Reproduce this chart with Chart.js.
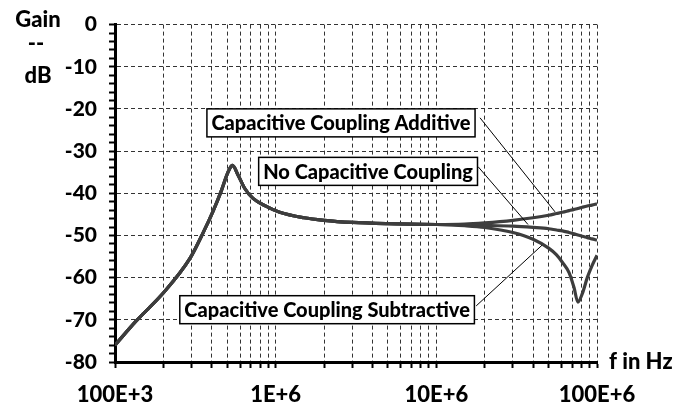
<!DOCTYPE html>
<html>
<head>
<meta charset="utf-8">
<script src="https://cdn.jsdelivr.net/npm/chart.js@4/dist/chart.umd.min.js"></script>
<style>
  html, body { margin: 0; padding: 0; background: #fff; }
  #wrap { width: 698px; height: 409px; }
</style>
</head>
<body>
<div id="wrap"><canvas id="c" width="698" height="409"></canvas></div>
<script>
// Frequency response: gain in dB versus frequency in Hz
const freqHz = [
  1e5, 1.36e5, 1.99e5, 2.92e5, 3.55e5, 4.08e5, 4.6e5, 4.94e5, 5.15e5, 5.38e5,
  5.84e5, 6.41e5, 7.23e5, 8.75e5, 1.06e6, 1.5e6, 2e6, 3e6,
  5e6, 1e7, 1.5e7, 2e7, 3e7, 4e7, 5e7, 5.6e7, 6.1e7, 6.7e7,
  7.2e7, 7.6e7, 8.1e7, 8.7e7, 9.3e7, 1e8
];
const gainNoCoupling = [
  -76, -70.2, -63.7, -55.5, -49.2, -44.2, -39.3, -35.9, -34.3, -33.4,
  -35.7, -38.8, -41.2, -43.1, -44.5, -45.8, -46.4, -46.9,
  -47.2, -47.4, -47.5, -47.6, -47.8, -48.1, -48.4, -48.7, -48.9, -49.3,
  -49.6, -49.9, -50.2, -50.5, -50.8, -51.1
];
const gainAdditive = [
  -76, -70.2, -63.7, -55.5, -49.2, -44.2, -39.3, -35.9, -34.3, -33.4,
  -35.7, -38.8, -41.2, -43.1, -44.5, -45.8, -46.4, -46.9,
  -47.2, -47.4, -47.3, -47.0, -46.4, -45.8, -45.2, -44.8, -44.5, -44.1,
  -43.8, -43.6, -43.3, -43.0, -42.8, -42.5
];
const gainSubtractive = [
  -76, -70.2, -63.7, -55.5, -49.2, -44.2, -39.3, -35.9, -34.3, -33.4,
  -35.7, -38.8, -41.2, -43.1, -44.5, -45.8, -46.4, -46.9,
  -47.2, -47.4, -47.7, -48.1, -49.3, -50.9, -53.0, -54.6, -56.4, -58.8,
  -62.4, -65.8, -63.8, -60.0, -57.2, -54.7
];

// Axis ticks
const decadeValues = [1e5, 1e6, 1e7, 1e8];
const decadeLabels = ['100E+3', '1E+6', '10E+6', '100E+6'];
const yMajorTicks = [-80, -70, -60, -50, -40, -30, -20, -10, 0];

const xTickValues = [];
decadeValues.forEach((d, i) => {
  const steps = i < decadeValues.length - 1 ? 9 : 1;
  for (let k = 1; k <= steps; k++) xTickValues.push(d * k);
});
const yTickValues = [];
for (let v = yMajorTicks[0]; v <= yMajorTicks[yMajorTicks.length - 1]; v += 2) yTickValues.push(v);

// Callout boxes and their leader lines, placed in data coordinates
const callouts = [
  { text: 'Capacitive Coupling Additive',    f: 2.55e6, g: -23.3, from: [1.87e7, -22.1], to: [5.48e7, -44.4] },
  { text: 'No Capacitive Coupling',          f: 3.76e6, g: -34.8, from: [1.82e7, -33.7], to: [3.72e7, -47.4] },
  { text: 'Capacitive Coupling Subtractive', f: 2.09e6, g: -67.6, from: [1.77e7, -66.7], to: [4.55e7, -52.3] }
];

const FONT = 'Lato, "Open Sans", sans-serif';
const WEIGHT = '900';
Chart.defaults.font.family = FONT;
Chart.defaults.font.weight = WEIGHT;
Chart.defaults.color = '#000';

const toPoints = (ys) => freqHz.map((f, i) => ({ x: f, y: ys[i] }));
const lineStyle = {
  borderColor: '#3d3d3d',
  borderWidth: 3.2,
  pointRadius: 0,
  fill: false,
  cubicInterpolationMode: 'monotone'
};

const annotate = {
  id: 'annotate',
  afterDatasetsDraw(chart) {
    const { ctx } = chart;
    const sx = chart.scales.x, sy = chart.scales.y;
    ctx.save();
    // leader lines
    ctx.strokeStyle = '#000';
    ctx.lineWidth = 1;
    callouts.forEach(c => {
      ctx.beginPath();
      ctx.moveTo(sx.getPixelForValue(c.from[0]), sy.getPixelForValue(c.from[1]));
      ctx.lineTo(sx.getPixelForValue(c.to[0]), sy.getPixelForValue(c.to[1]));
      ctx.stroke();
    });
    // boxed labels
    ctx.font = WEIGHT + ' 20px ' + FONT;
    ctx.textAlign = 'center';
    ctx.textBaseline = 'middle';
    callouts.forEach(c => {
      const cx = sx.getPixelForValue(c.f), cy = sy.getPixelForValue(c.g);
      const w = ctx.measureText(c.text).width + 9, h = 28;
      ctx.fillStyle = '#fff';
      ctx.fillRect(cx - w / 2, cy - h / 2, w, h);
      ctx.lineWidth = 1.5;
      ctx.strokeStyle = '#000';
      ctx.strokeRect(cx - w / 2, cy - h / 2, w, h);
      ctx.fillStyle = '#000';
      ctx.fillText(c.text, cx, cy + 1);
    });
    ctx.restore();
  },
  afterDraw(chart) {
    const { ctx } = chart;
    ctx.save();
    ctx.fillStyle = '#000';
    ctx.font = WEIGHT + ' 22px ' + FONT;
    ctx.textBaseline = 'alphabetic';
    ctx.textAlign = 'center';
    ctx.fillText('Gain', 38, 27);
    ctx.fillText('--', 36, 51);
    ctx.fillText('dB', 38, 83);
    ctx.textAlign = 'left';
    ctx.fillText('f in Hz', 609, 369);
    ctx.restore();
  }
};

new Chart(document.getElementById('c'), {
  type: 'line',
  data: {
    datasets: [
      Object.assign({ label: 'Capacitive Coupling Additive', data: toPoints(gainAdditive) }, lineStyle),
      Object.assign({ label: 'Capacitive Coupling Subtractive', data: toPoints(gainSubtractive) }, lineStyle),
      Object.assign({ label: 'No Capacitive Coupling', data: toPoints(gainNoCoupling) }, lineStyle)
    ]
  },
  options: {
    responsive: false,
    animation: false,
    devicePixelRatio: 1,
    layout: { padding: { left: 0, right: 101, top: 18, bottom: 0 } },
    plugins: { legend: { display: false }, tooltip: { enabled: false } },
    scales: {
      x: {
        type: 'logarithmic',
        min: 1e5,
        max: 1e8,
        afterBuildTicks: (s) => { s.ticks = xTickValues.map(v => ({ value: v })); },
        afterFit: (s) => { s.height = 47; },
        ticks: {
          autoSkip: false,
          maxRotation: 0,
          padding: 14,
          font: { size: 22, weight: WEIGHT },
          callback: (v) => {
            const i = decadeValues.indexOf(v);
            return i >= 0 ? decadeLabels[i] : '';
          }
        },
        grid: { color: '#333', lineWidth: 1, tickColor: '#000', tickWidth: 2, tickLength: 6 },
        border: { display: true, color: '#000', width: 3, dash: [4, 3] }
      },
      y: {
        type: 'linear',
        min: -80,
        max: 0,
        afterBuildTicks: (s) => { s.ticks = yTickValues.map(v => ({ value: v })); },
        afterFit: (s) => { s.width = 115; },
        ticks: {
          autoSkip: false,
          padding: 12,
          font: { size: 21, weight: WEIGHT },
          callback: (v) => (yMajorTicks.includes(v) ? String(v) : '')
        },
        grid: {
          color: (c) => (c.tick && yMajorTicks.includes(c.tick.value) ? '#333' : 'rgba(0,0,0,0)'),
          lineWidth: 1,
          tickColor: '#000',
          tickWidth: 2,
          tickLength: 6
        },
        border: { display: true, color: '#000', width: 3, dash: [4, 3] }
      }
    }
  },
  plugins: [annotate]
});
</script>
</body>
</html>
